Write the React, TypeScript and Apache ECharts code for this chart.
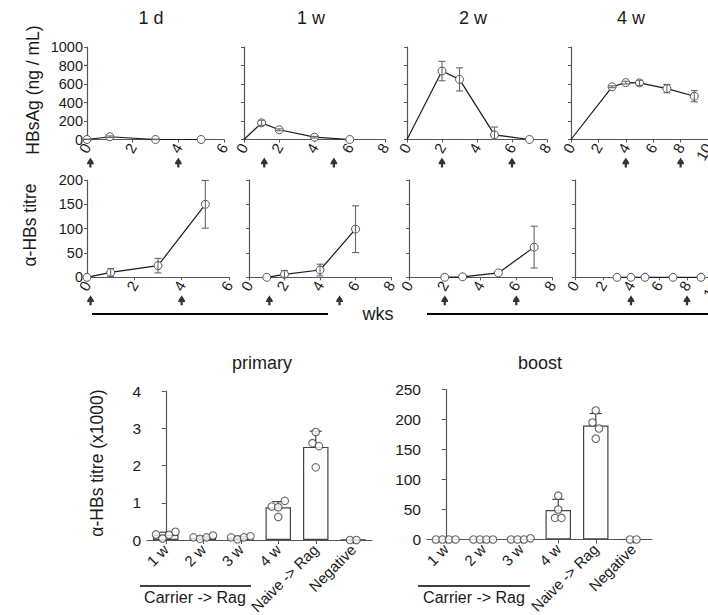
import React, { useEffect, useRef } from "react";
import * as echarts from "echarts";

// Time-course panels: one column per carrier duration before transfer
const panelTitles = ["1 d", "1 w", "2 w", "4 w"];
const weekAxisMax = [6, 8, 8, 10];
const hbsFromOrigin = [false, true, true, true];

// Serum HBsAg (ng/mL), mean and SD per sampling week
const hbsWeeks = [[0, 1, 3, 5], [1, 2, 4, 6], [2, 3, 5, 7], [3, 4, 5, 7, 9]];
const hbsMean = [[0, 30, 0, 0], [180, 105, 25, 0], [740, 650, 50, 0], [570, 615, 612, 550, 468]];
const hbsSd = [[4, 8, 4, 0], [28, 10, 8, 0], [105, 125, 85, 0], [10, 15, 28, 45, 60]];

// Anti-HBs titre, mean and SD per sampling week
const titreWeeks = [[0, 1, 3, 5], [1, 2, 4, 6], [2, 3, 5, 7], [3, 4, 5, 7, 9]];
const titreMean = [[0, 10, 24, 150], [0, 6, 15, 99], [0, 1, 9, 62], [0, 0, 0, 0, 0]];
const titreSd = [[0, 8, 15, 49], [0, 8, 12, 48], [0, 0, 0, 43], [0, 0, 0, 0, 0]];

// Immunisation time points (weeks)
const doseWeeks = [[0.15, 4], [1.15, 5.1], [2, 6], [4, 8]];

// Endpoint titres per recipient group
const groups = ["1 w", "2 w", "3 w", "4 w", "Naive -> Rag", "Negative"];
const primaryMean = [0.14, 0.07, 0.07, 0.88, 2.5, 0.005];
const primarySd = [0.07, 0.03, 0.03, 0.15, 0.42, 0];
const primaryDots = [
  [0.15, 0.04, 0.14, 0.22],
  [0.07, 0.03, 0.07, 0.12],
  [0.07, 0.02, 0.07, 0.1],
  [0.9, 0.62, 0.88, 1.05],
  [2.9, 2.6, 2.52, 1.95],
  [0, 0],
];
const boostMean = [0, 0, 0.5, 49, 190, 0];
const boostSd = [0, 0, 0, 18, 20, 0];
const boostDots = [
  [0, 0, 0, 0],
  [0, 0, 0, 0],
  [0, 0, 0, 2],
  [73, 50, 36, 36],
  [215, 195, 185, 168],
  [0, 0],
];

const FONT = "Liberation Sans, Arial, Helvetica, sans-serif";
const AXIS = "#555";
const INK = "#1a1a1a";

// grid boxes in pixels
const topGrids = [
  { left: 87, width: 137 },
  { left: 244, width: 141 },
  { left: 407, width: 140 },
  { left: 571, width: 137 },
];
const midGrids = [
  { left: 87, width: 142 },
  { left: 249, width: 142 },
  { left: 409, width: 143 },
  { left: 575, width: 140 },
];
const TOP_Y = 47, TOP_H = 92.5;
const MID_Y = 180, MID_H = 97.3;
const BAR_GRIDS = [
  { left: 147, top: 391, width: 225, height: 149, max: 4 },
  { left: 427, top: 389.5, width: 225, height: 150, max: 250 },
];

const ARROW = "path://M5,0 C6.5,2.5 10,5.5 10,8 L6.6,8 L6.6,12 L3.4,12 L3.4,8 L0,8 C0,5.5 3.5,2.5 5,0 Z";

// Spread overlapping dots sideways: dots closer than one symbol vertically share a row
function swarmOffsets(values: number[], pxPerUnit: number, catPx: number) {
  const step = 6.5;
  const order = values.map((v, i) => i).sort((a, b) => values[b] - values[a]);
  const clusters: number[][] = [];
  let prev: number | null = null;
  order.forEach((i) => {
    const px = values[i] * pxPerUnit;
    if (prev === null || prev - px >= 7) clusters.push([i]);
    else clusters[clusters.length - 1].push(i);
    prev = px;
  });
  const off = new Array(values.length).fill(0);
  clusters.forEach((c) => {
    const members = [...c].sort((a, b) => a - b);
    members.forEach((idx, k) => {
      off[idx] = ((k - (members.length - 1) / 2) * step) / catPx;
    });
  });
  return off;
}

function errorRenderer(upOnly: boolean, capHalf: number, color: string) {
  return (params: any, api: any) => {
    const x = api.value(0);
    const m = api.value(1);
    const s = api.value(2);
    if (!s) return { type: "group", children: [] };
    const top = api.coord([x, m + s]);
    const bot = api.coord([x, upOnly ? m : Math.max(0, m - s)]);
    const style = { stroke: color, lineWidth: 1.1 };
    const children: any[] = [
      { type: "line", shape: { x1: top[0], y1: top[1], x2: bot[0], y2: bot[1] }, style },
      { type: "line", shape: { x1: top[0] - capHalf, y1: top[1], x2: top[0] + capHalf, y2: top[1] }, style },
    ];
    if (!upOnly) {
      children.push({ type: "line", shape: { x1: bot[0] - capHalf, y1: bot[1], x2: bot[0] + capHalf, y2: bot[1] }, style });
    }
    return { type: "group", children };
  };
}

function buildOption() {
  const grid: any[] = [];
  const xAxis: any[] = [];
  const yAxis: any[] = [];
  const series: any[] = [];

  const axisLine = { show: true, lineStyle: { color: AXIS, width: 1.2 } };
  const axisTick = { show: true, length: 3, lineStyle: { color: AXIS } };
  const plain = (v: number) => String(v);

  const addTimePanel = (
    gi: number,
    box: { left: number; width: number },
    top: number,
    height: number,
    p: number,
    yMax: number,
    yInterval: number,
    weeks: number[],
    mean: number[],
    sd: number[],
    fromOrigin: boolean
  ) => {
    grid.push({ left: box.left, top, width: box.width, height, containLabel: false, outerBoundsMode: "none" });
    xAxis.push({
      type: "value",
      gridIndex: gi,
      min: 0,
      max: weekAxisMax[p],
      interval: 2,
      axisLine,
      axisTick,
      splitLine: { show: false },
      axisLabel: { rotate: 60, margin: 5, fontSize: 15, color: INK, fontFamily: FONT, formatter: plain },
    });
    yAxis.push({
      type: "value",
      gridIndex: gi,
      min: 0,
      max: yMax,
      interval: yInterval,
      axisLine,
      axisTick,
      splitLine: { show: false },
      axisLabel: { show: p === 0, margin: 4, fontSize: 14.5, color: INK, fontFamily: FONT, formatter: plain },
    });
    const pts: any[] = weeks.map((w, j) => [w, mean[j]]);
    if (fromOrigin) pts.unshift({ value: [0, 0], symbol: "none" });
    series.push({
      type: "line",
      xAxisIndex: gi,
      yAxisIndex: gi,
      data: pts,
      symbol: "circle",
      symbolSize: 8,
      itemStyle: { color: "#fff", borderColor: "#555", borderWidth: 1 },
      lineStyle: { color: INK, width: 1.2 },
      z: 3,
    });
    series.push({
      type: "custom",
      xAxisIndex: gi,
      yAxisIndex: gi,
      data: weeks.map((w, j) => [w, mean[j], sd[j]]),
      encode: { x: 0, y: 1 },
      renderItem: errorRenderer(false, 3.5, "#666"),
      z: 4,
    });
    series.push({
      type: "scatter",
      xAxisIndex: gi,
      yAxisIndex: gi,
      data: doseWeeks[p].map((w) => [w, 0]),
      symbol: ARROW,
      symbolSize: [7, 10],
      symbolOffset: [0, 23],
      itemStyle: { color: "#000" },
      clip: false,
      z: 4,
    });
  };

  for (let p = 0; p < 4; p++) {
    addTimePanel(p, topGrids[p], TOP_Y, TOP_H, p, 1000, 200, hbsWeeks[p], hbsMean[p], hbsSd[p], hbsFromOrigin[p]);
  }
  for (let p = 0; p < 4; p++) {
    addTimePanel(4 + p, midGrids[p], MID_Y, MID_H, p, 200, 50, titreWeeks[p], titreMean[p], titreSd[p], false);
  }

  // endpoint bar charts
  const barSets = [
    { mean: primaryMean, sd: primarySd, dots: primaryDots },
    { mean: boostMean, sd: boostSd, dots: boostDots },
  ];
  barSets.forEach((set, b) => {
    const g = BAR_GRIDS[b];
    const gi = 8 + b;
    grid.push({ left: g.left, top: g.top, width: g.width, height: g.height, containLabel: false, outerBoundsMode: "none" });
    const catAxis = xAxis.length;
    xAxis.push({
      type: "category",
      gridIndex: gi,
      data: groups,
      axisLine: { show: true, lineStyle: { color: AXIS, width: 1.2 } },
      axisTick: { show: true, alignWithLabel: true, length: 4, lineStyle: { color: AXIS } },
      axisLabel: { interval: 0, rotate: 45, margin: 7, fontSize: 15, color: INK, fontFamily: FONT },
    });
    const valAxis = xAxis.length;
    xAxis.push({ type: "value", gridIndex: gi, min: -0.5, max: 5.5, show: false });
    const yi = yAxis.length;
    yAxis.push({
      type: "value",
      gridIndex: gi,
      min: 0,
      max: g.max,
      interval: b === 0 ? 1 : 50,
      axisLine,
      axisTick: { show: true, length: 4, lineStyle: { color: AXIS } },
      splitLine: { show: false },
      axisLabel: { margin: 6, fontSize: 15.5, color: INK, fontFamily: FONT, formatter: plain },
    });
    series.push({
      type: "bar",
      xAxisIndex: catAxis,
      yAxisIndex: yi,
      data: set.mean,
      barWidth: "68%",
      itemStyle: { color: "#fff", borderColor: "#444", borderWidth: 1.2 },
      z: 2,
    });
    series.push({
      type: "custom",
      xAxisIndex: catAxis,
      yAxisIndex: yi,
      data: set.mean.map((m, i) => [i, m, set.sd[i]]),
      encode: { x: 0, y: 1 },
      renderItem: errorRenderer(true, 6, "#333"),
      z: 3,
    });
    const pxPerUnit = g.height / g.max;
    const catPx = g.width / groups.length;
    const dotData: number[][] = [];
    set.dots.forEach((vals, i) => {
      const off = swarmOffsets(vals, pxPerUnit, catPx);
      vals.forEach((v, k) => dotData.push([i + off[k], v]));
    });
    series.push({
      type: "scatter",
      xAxisIndex: valAxis,
      yAxisIndex: yi,
      data: dotData,
      symbol: "circle",
      symbolSize: 7.5,
      itemStyle: { color: "#fff", borderColor: "#444", borderWidth: 1.1 },
      clip: false,
      z: 4,
    });
  });

  const text = (x: number, y: number, t: string, size: number, extra: any = {}) => ({
    type: "text",
    x,
    y,
    ...extra,
    style: { text: t, fontSize: size, fontFamily: FONT, fill: INK, align: "center", verticalAlign: "middle" },
  });
  const hline = (x1: number, x2: number, y: number, w: number) => ({
    type: "line",
    shape: { x1, y1: y, x2, y2: y },
    style: { stroke: "#000", lineWidth: w },
  });

  const graphic: any[] = [
    text(151, 18, panelTitles[0], 18),
    text(311, 18, panelTitles[1], 18),
    text(473, 18, panelTitles[2], 18),
    text(631, 18, panelTitles[3], 18),
    text(33, 90, "HBsAg (ng / mL)", 17.5, { rotation: Math.PI / 2 }),
    text(30, 225, "α-HBs titre", 17.5, { rotation: Math.PI / 2 }),
    hline(92, 328, 314, 2),
    hline(427, 708, 314, 2),
    text(378, 314, "wks", 18),
    text(262, 363, "primary", 18),
    text(540, 363, "boost", 18),
    text(97, 463, "α-HBs titre (x1000)", 17.5, { rotation: Math.PI / 2 }),
    hline(140, 251, 586, 1.4),
    hline(418, 530, 586, 1.4),
    text(195, 597, "Carrier -> Rag", 16),
    text(474, 597, "Carrier -> Rag", 16),
  ];

  return {
    animation: false,
    backgroundColor: "#fff",
    textStyle: { fontFamily: FONT },
    grid,
    xAxis,
    yAxis,
    series,
    graphic,
  };
}

export default function App() {
  const ref = useRef<HTMLDivElement>(null);
  useEffect(() => {
    if (!ref.current) return;
    const chart = echarts.init(ref.current, undefined, { renderer: "svg" });
    chart.setOption(buildOption() as any);
    return () => chart.dispose();
  }, []);
  return (
    <div
      ref={ref}
      style={{ position: "absolute", left: 0, top: 0, width: 708, height: 615, background: "#fff" }}
    />
  );
}
